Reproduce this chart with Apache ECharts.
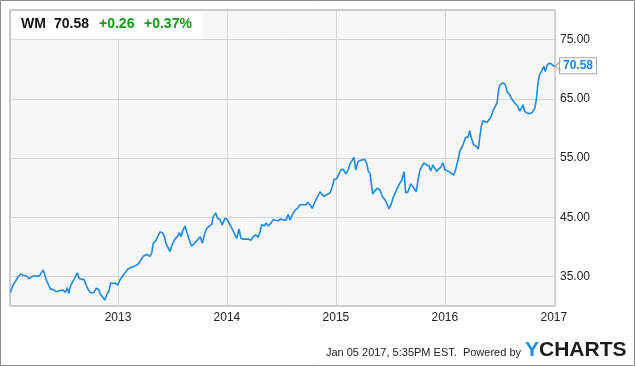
<!DOCTYPE html>
<html>
<head>
<meta charset="utf-8">
<script src="https://cdn.jsdelivr.net/npm/echarts@6/dist/echarts.min.js"></script>
<style>
html,body{margin:0;padding:0;background:#fff;}
#chart{width:635px;height:366px;}
</style>
</head>
<body>
<div id="chart"></div>
<script>
// Decimal-year positions of the samples
const years = [
2012.013,2012.036,2012.057,2012.082,2012.107,2012.128,2012.158,2012.183,2012.204,2012.236,
2012.275,2012.296,2012.314,2012.327,2012.342,2012.364,2012.382,2012.403,2012.434,2012.465,
2012.495,2012.516,2012.535,2012.548,2012.566,2012.581,2012.603,2012.627,2012.642,2012.663,
2012.688,2012.709,2012.731,2012.755,2012.780,2012.801,2012.823,2012.835,2012.853,2012.878,
2012.902,2012.917,2012.933,2012.954,2012.975,2012.997,2013.018,2013.049,2013.089,2013.119,
2013.150,2013.186,2013.211,2013.232,2013.263,2013.294,2013.309,2013.324,2013.346,2013.364,
2013.385,2013.407,2013.425,2013.441,2013.456,2013.477,2013.498,2013.523,2013.548,2013.563,
2013.578,2013.594,2013.615,2013.631,2013.652,2013.676,2013.707,2013.737,2013.755,2013.774,
2013.792,2013.814,2013.838,2013.860,2013.875,2013.897,2013.915,2013.936,2013.957,2013.982,
2014.003,2014.028,2014.049,2014.067,2014.089,2014.111,2014.129,2014.150,2014.172,2014.196,
2014.221,2014.242,2014.264,2014.288,2014.303,2014.319,2014.343,2014.358,2014.380,2014.404,
2014.425,2014.447,2014.471,2014.496,2014.517,2014.542,2014.563,2014.579,2014.600,2014.625,
2014.649,2014.670,2014.692,2014.710,2014.726,2014.741,2014.762,2014.783,2014.808,2014.833,
2014.854,2014.870,2014.893,2014.915,2014.946,2014.967,2014.985,2015.007,2015.022,2015.047,
2015.068,2015.090,2015.111,2015.129,2015.150,2015.166,2015.182,2015.203,2015.228,2015.242,
2015.264,2015.283,2015.297,2015.313,2015.325,2015.338,2015.356,2015.380,2015.405,2015.426,
2015.448,2015.466,2015.487,2015.508,2015.527,2015.542,2015.564,2015.588,2015.604,2015.625,
2015.641,2015.662,2015.687,2015.710,2015.738,2015.754,2015.772,2015.788,2015.809,2015.833,
2015.855,2015.870,2015.891,2015.907,2015.925,2015.940,2015.962,2015.983,2015.999,2016.013,
2016.038,2016.059,2016.081,2016.099,2016.121,2016.142,2016.160,2016.176,2016.191,2016.212,
2016.228,2016.243,2016.265,2016.289,2016.307,2016.320,2016.334,2016.350,2016.366,2016.387,
2016.405,2016.426,2016.442,2016.460,2016.479,2016.494,2016.509,2016.534,2016.555,2016.573,
2016.595,2016.610,2016.625,2016.641,2016.656,2016.671,2016.687,2016.702,2016.717,2016.733,
2016.754,2016.779,2016.802,2016.825,2016.839,2016.855,2016.870,2016.892,2016.907,2016.922,
2016.937,2016.956,2016.977,2016.999,2017.011
];
// WM close price (USD)
const prices = [
32.3,33.5,34.1,34.9,35.4,35.2,35.1,34.6,34.9,35.1,
35.0,35.6,36.1,35.8,34.4,33.5,32.8,32.8,32.4,32.6,
32.7,32.3,33.1,32.1,33.5,33.8,34.7,35.6,34.7,34.5,
34.5,33.5,32.6,32.2,32.3,33.0,32.8,32.1,32.4,31.0,
32.1,32.5,33.9,33.8,33.9,33.5,34.4,35.2,36.2,36.5,
36.7,37.1,37.8,38.4,38.7,38.4,38.9,40.6,41.0,41.0,
42.5,42.4,41.8,40.6,40.9,39.2,40.4,41.3,41.8,42.4,
41.7,42.7,43.5,42.5,41.3,40.1,40.7,41.3,41.7,40.6,
42.0,43.1,43.5,43.8,45.1,45.7,44.8,44.6,43.7,44.8,
44.6,43.7,43.0,42.3,41.4,43.0,41.4,41.3,41.3,41.3,
41.1,41.7,42.0,41.6,42.5,43.8,43.5,44.0,43.5,44.0,
44.6,44.5,44.4,44.7,44.5,44.5,45.5,44.5,45.4,46.2,
46.5,47.1,47.1,47.4,47.1,47.5,47.1,46.5,47.6,48.5,
49.3,48.9,48.5,48.8,49.1,50.2,51.4,51.5,51.5,53.0,
53.1,52.3,52.9,54.0,54.6,55.1,53.0,54.4,54.6,54.3,
54.8,54.1,52.8,52.4,50.7,48.9,49.4,49.9,49.6,48.5,
48.0,47.4,46.4,47.2,48.4,48.2,49.9,50.8,51.2,52.7,
49.1,49.3,50.6,50.1,49.3,51.3,53.0,52.7,54.2,53.8,
53.7,52.8,53.8,53.7,52.7,53.1,53.4,54.2,53.0,53.3,
52.7,52.4,52.1,53.0,54.7,56.4,56.9,57.2,58.5,58.5,
59.6,58.4,57.2,57.0,56.5,58.4,60.3,61.3,61.0,61.0,
61.2,62.0,63.0,62.9,64.3,66.6,67.4,67.7,67.4,66.1,
65.7,65.1,65.3,64.3,64.5,63.7,62.9,63.4,64.0,62.9,
62.6,62.5,62.7,63.4,64.8,67.7,69.1,69.8,70.5,69.6,
70.6,71.0,70.9,70.5,70.58
];
const xTicks = [2013, 2014, 2015, 2016, 2017];
const yTicks = [35, 45, 55, 65, 75];
const ticker = 'WM';
const lastPrice = '70.58';
const change = '+0.26';
const changePct = '+0.37%';
const stamp = 'Jan 05 2017, 5:35PM EST.  Powered by';

const seriesData = years.map((y, i) => [y, prices[i]]);
const lastIdx = years.length - 1;
const FONT = '"Liberation Sans", Arial, sans-serif';

const chart = echarts.init(document.getElementById('chart'), null, {renderer: 'canvas'});
chart.setOption({
  animation: false,
  backgroundColor: '#ffffff',
  grid: {
    left: 10, right: 80, top: 10, bottom: 60,
    show: true, backgroundColor: '#f7f7f7', borderColor: '#9a9a9a', borderWidth: 1
  },
  xAxis: {
    type: 'value',
    min: 2012.009, max: 2017.011,
    axisLine: {show: false},
    axisTick: {show: false, customValues: xTicks},
    splitLine: {show: true, lineStyle: {color: '#d6d6d6', width: 1}},
    axisLabel: {
      customValues: xTicks,
      formatter: v => String(Math.round(v)),
      color: '#222', fontSize: 12, fontFamily: FONT, margin: 6
    }
  },
  yAxis: {
    type: 'value',
    position: 'right',
    min: 30, max: 80,
    axisLine: {show: false},
    axisTick: {show: false, customValues: yTicks},
    splitLine: {show: true, lineStyle: {color: '#d6d6d6', width: 1}},
    axisLabel: {
      customValues: yTicks,
      formatter: v => v.toFixed(2),
      color: '#222', fontSize: 12, fontFamily: FONT, margin: 5
    }
  },
  series: [{
    type: 'line',
    data: seriesData,
    showSymbol: false,
    lineStyle: {color: '#1e8ae3', width: 1.6},
    itemStyle: {color: '#1e8ae3'},
    endLabel: {
      show: true,
      formatter: lastPrice,
      distance: 5,
      color: '#1a85d8', fontWeight: 'bold', fontSize: 12, fontFamily: FONT,
      backgroundColor: '#fff', borderColor: '#a8a8a8', borderWidth: 1,
      padding: [2, 3, 1, 3]
    },
    markPoint: {
      silent: true,
      symbol: 'path://M6,0 L0,6 L6,12',
      symbolSize: [5, 10],
      symbolOffset: [3, 0],
      itemStyle: {color: 'none', borderColor: '#a0a0a0', borderWidth: 1},
      label: {show: false},
      data: [{coord: [years[lastIdx], prices[lastIdx]]}]
    }
  }],
  graphic: [
    {type: 'rect', shape: {x: 0.5, y: 0.5, width: 634, height: 365},
     style: {fill: 'none', stroke: '#8a8a8a', lineWidth: 1}, z: 100},
    {type: 'rect', shape: {x: 11, y: 11, width: 192, height: 28},
     style: {fill: 'rgba(255,255,255,0.92)'}, z: 50},
    {type: 'text', x: 21, y: 24, z: 51,
     style: {text: ticker, font: 'bold 14px ' + FONT, fill: '#111', verticalAlign: 'middle'}},
    {type: 'text', x: 54, y: 24, z: 51,
     style: {text: lastPrice, font: 'bold 14px ' + FONT, fill: '#111', verticalAlign: 'middle'}},
    {type: 'text', x: 99, y: 24, z: 51,
     style: {text: change, font: 'bold 14px ' + FONT, fill: '#139a13', verticalAlign: 'middle'}},
    {type: 'text', x: 144, y: 24, z: 51,
     style: {text: changePct, font: 'bold 14px ' + FONT, fill: '#139a13', verticalAlign: 'middle'}},
    {type: 'text', x: 521, y: 353, z: 51,
     style: {text: stamp, font: '11px ' + FONT, fill: '#222', align: 'right', verticalAlign: 'middle'}},
    {type: 'text', x: 525, y: 350, z: 51,
     style: {
       text: '{y|Y}{c|CHARTS}', verticalAlign: 'middle',
       rich: {
         y: {font: 'bold 21px ' + FONT, fill: '#1c8fe6'},
         c: {font: 'bold 21px ' + FONT, fill: '#1b1b1b'}
       }
     }}
  ]
});
</script>
</body>
</html>
